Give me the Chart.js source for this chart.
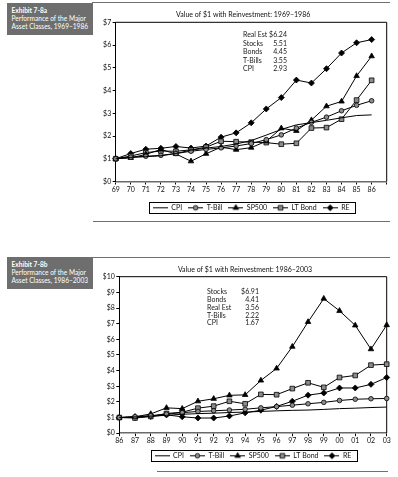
<!DOCTYPE html>
<html>
<head>
<meta charset="utf-8">
<script src="https://cdn.jsdelivr.net/npm/chart.js@4.4.1/dist/chart.umd.min.js"></script>
<style>
  body { margin: 0; width: 398px; height: 477px; overflow: hidden; background: #fff; position: relative;
         font-family: Lato, "Open Sans", sans-serif; color: #1a1a1a; }
  .rule { position: absolute; height: 0; border-top: 1px solid #707070; }
  .tag { position: absolute; left: 7px; width: 86px; height: 32px; box-sizing: border-box; padding: 2.9px 0 0 4.5px;
         background: #6e6e6e; color: #fff; font-size: 6.6px; line-height: 8.3px; white-space: nowrap; overflow: hidden; }
  .tag b { font-weight: bold; }
  canvas { position: absolute; left: 92px; }
  .summary { position: absolute; font-size: 7px; }
  .summary div { position: relative; white-space: nowrap; }
  .summary span { position: absolute; top: 0; }
  .summary .v { right: 0; }
</style>
</head>
<body>
<div class="rule" style="top:2px;left:92px;width:298px"></div>
<div class="tag" style="top:3px"><b>Exhibit 7-8a</b><br>Performance of the Major<br>Asset Classes, 1969–1986</div>
<canvas id="graficoA" width="306" height="218" style="top:4px;width:306px;height:218px"></canvas>
<div class="summary" id="resumenA" style="left:243px;top:30px;width:44px"></div>
<div class="rule" style="top:221px;left:93px;width:297px"></div>

<div class="rule" style="top:257px;left:92px;width:298px"></div>
<div class="tag" style="top:257px"><b>Exhibit 7-8b</b><br>Performance of the Major<br>Asset Classes, 1986–2003</div>
<canvas id="graficoB" width="306" height="212" style="top:258px;width:306px;height:212px"></canvas>
<div class="summary" id="resumenB" style="left:207px;top:288.4px;width:52px"></div>
<div class="rule" style="top:471px;left:157px;width:231px"></div>

<script>
// ---- data ----
const seriesNames = ['CPI', 'T-Bill', 'SP500', 'LT Bond', 'RE'];

const yearsA = ['69', '70', '71', '72', '73', '74', '75', '76', '77', '78', '79', '80', '81', '82', '83', '84', '85', '86', ''];
const cpiA   = [1.00, 1.06, 1.09, 1.13, 1.23, 1.38, 1.47, 1.54, 1.65, 1.80, 2.04, 2.29, 2.49, 2.59, 2.69, 2.80, 2.90, 2.93];
const tbillA = [1.00, 1.07, 1.11, 1.15, 1.23, 1.33, 1.41, 1.48, 1.56, 1.67, 1.84, 2.05, 2.35, 2.60, 2.83, 3.11, 3.35, 3.55];
const spA    = [1.00, 1.04, 1.19, 1.41, 1.21, 0.89, 1.22, 1.51, 1.40, 1.49, 1.77, 2.34, 2.23, 2.70, 3.31, 3.52, 4.64, 5.51];
const bondA  = [1.00, 1.12, 1.27, 1.34, 1.33, 1.39, 1.51, 1.77, 1.75, 1.73, 1.71, 1.64, 1.68, 2.35, 2.37, 2.74, 3.58, 4.45];
const reA    = [1.00, 1.23, 1.42, 1.46, 1.54, 1.47, 1.56, 1.95, 2.14, 2.58, 3.19, 3.69, 4.46, 4.33, 4.96, 5.65, 6.10, 6.24];
const namesA = ['Real Est', 'Stocks', 'Bonds', 'T-Bills', 'CPI'];
const finalA = ['$6.24', '5.51', '4.45', '3.55', '2.93'];

const yearsB = ['86', '87', '88', '89', '90', '91', '92', '93', '94', '95', '96', '97', '98', '99', '00', '01', '02', '03'];
const cpiB   = [1.00, 1.04, 1.09, 1.14, 1.21, 1.25, 1.28, 1.32, 1.35, 1.39, 1.43, 1.46, 1.48, 1.52, 1.57, 1.60, 1.64, 1.67];
const tbillB = [1.00, 1.06, 1.12, 1.22, 1.31, 1.39, 1.43, 1.48, 1.53, 1.62, 1.70, 1.79, 1.88, 1.97, 2.09, 2.17, 2.20, 2.22];
const spB    = [1.00, 1.05, 1.23, 1.62, 1.57, 2.04, 2.20, 2.42, 2.45, 3.37, 4.14, 5.53, 7.11, 8.60, 7.82, 6.89, 5.37, 6.91];
const bondB  = [1.00, 0.97, 1.07, 1.26, 1.34, 1.60, 1.73, 2.04, 1.88, 2.48, 2.46, 2.85, 3.22, 2.93, 3.56, 3.69, 4.35, 4.41];
const reB    = [1.00, 1.01, 1.07, 1.17, 1.05, 0.97, 0.97, 1.10, 1.30, 1.47, 1.71, 2.04, 2.43, 2.57, 2.89, 2.89, 3.12, 3.56];
const namesB = ['Stocks', 'Bonds', 'Real Est', 'T-Bills', 'CPI'];
const finalB = ['$6.91', '4.41', '3.56', '2.22', '1.67'];

// ---- look ----
Chart.defaults.font.family = 'Lato';
Chart.defaults.font.size = 7;
Chart.defaults.color = '#111';

const marcadores = [
    { style: false,      radius: 0,   fill: '#000' },
    { style: 'circle',   radius: 2.3, fill: '#8c8c8c' },
    { style: 'triangle', radius: 3.2, fill: '#000' },
    { style: 'rect',     radius: 3.3, fill: '#8c8c8c' },
    { style: 'rectRot',  radius: 3,   fill: '#000' }
];

// small canvas used as legend symbol: line with the marker in the middle
const iconoLeyenda = (m) => {
    const c = document.createElement('canvas');
    c.width = 15; c.height = 9;
    const g = c.getContext('2d');
    const cx = 7.5, cy = 4.5;
    g.strokeStyle = '#000';
    g.lineWidth = 1;
    g.beginPath(); g.moveTo(0, cy); g.lineTo(15, cy); g.stroke();
    g.fillStyle = m.fill;
    g.lineWidth = 0.8;
    g.beginPath();
    if (m.style === 'circle') {
        g.arc(cx, cy, m.radius, 0, Math.PI * 2);
    } else if (m.style === 'triangle') {
        const r = m.radius;
        g.moveTo(cx, cy - r); g.lineTo(cx + r * 0.866, cy + r / 2); g.lineTo(cx - r * 0.866, cy + r / 2); g.closePath();
    } else if (m.style === 'rect') {
        const s = m.radius * Math.SQRT1_2;
        g.rect(cx - s, cy - s, 2 * s, 2 * s);
    } else if (m.style === 'rectRot') {
        const r = m.radius;
        g.moveTo(cx, cy - r); g.lineTo(cx + r, cy); g.lineTo(cx, cy + r); g.lineTo(cx - r, cy); g.closePath();
    } else {
        return c;
    }
    g.fill(); g.stroke();
    return c;
};
const iconos = marcadores.map(iconoLeyenda);

const marcoPlugin = {
    id: 'marco',
    afterLayout(chart, args, opts) {
        // center the legend under the plot area and nudge it down a little
        const l = chart.legend;
        const dx = (chart.chartArea.left + chart.chartArea.right) / 2 - (l.left + l.right) / 2;
        const dy = opts.legendShift || 0;
        l.left += dx; l.right += dx;
        l.top += dy; l.bottom += dy;
    },
    beforeDatasetsDraw(chart) {
        const { ctx, chartArea: a } = chart;
        ctx.save();
        ctx.strokeStyle = '#000';
        ctx.lineWidth = 1;
        ctx.beginPath();
        ctx.moveTo(a.left, a.top); ctx.lineTo(a.right, a.top); ctx.lineTo(a.right, a.bottom);
        ctx.stroke();
        ctx.restore();
    },
    afterDraw(chart) {
        const { ctx } = chart;
        const hb = chart.legend.legendHitBoxes;
        if (!hb || !hb.length) return;
        const left = Math.min(...hb.map(h => h.left)) - 4;
        const right = Math.max(...hb.map(h => h.left + h.width)) + 5;
        const cy = hb[0].top + hb[0].height / 2;
        ctx.save();
        ctx.strokeStyle = '#000';
        ctx.lineWidth = 1;
        ctx.strokeRect(Math.round(left) + 0.5, Math.round(cy - 5.5) + 0.5, Math.round(right - left), 11);
        ctx.restore();
    }
};

const crearGrafica = (id, titulo, etiquetas, series, yMax, g) => {
    const datasets = series.map((valores, i) => ({
        label: seriesNames[i],
        data: valores,
        borderColor: '#000',
        borderWidth: 1,
        tension: 0,
        clip: false,
        pointStyle: marcadores[i].style || 'circle',
        pointRadius: marcadores[i].radius,
        pointHoverRadius: marcadores[i].radius,
        pointBackgroundColor: marcadores[i].fill,
        pointBorderColor: '#000',
        pointBorderWidth: 0.8
    }));

    return new Chart(document.getElementById(id), {
        type: 'line',
        data: { labels: etiquetas, datasets },
        options: {
            responsive: false,
            animation: false,
            events: [],
            layout: { padding: g.padding },
            scales: {
                x: {
                    type: 'category',
                    offset: false,
                    ticks: { autoSkip: false, maxRotation: 0, padding: g.xPad },
                    grid: { drawOnChartArea: false, tickLength: 3, color: '#000', offset: false },
                    border: { color: '#6a6a6a', width: 1.5 }
                },
                y: {
                    min: 0,
                    max: yMax,
                    ticks: { stepSize: 1, padding: 1.5, callback: v => '$' + v },
                    grid: { drawOnChartArea: false, tickLength: 3, color: '#000' },
                    border: { color: '#000', width: 1 },
                    afterFit: s => { s.width = 16; }
                }
            },
            plugins: {
                title: {
                    display: true,
                    text: titulo,
                    font: { size: 7, weight: 'normal', lineHeight: 1.2 },
                    padding: g.titlePad
                },
                legend: {
                    position: 'bottom',
                    labels: {
                        usePointStyle: true,
                        pointStyleWidth: 15,
                        boxHeight: 7,
                        padding: 6,
                        generateLabels: chart => Chart.defaults.plugins.legend.labels.generateLabels(chart)
                            .map((it, i) => ({ ...it, pointStyle: iconos[i], lineWidth: 0 }))
                    }
                },
                marco: { legendShift: g.legendShift },
                tooltip: { enabled: false }
            }
        },
        plugins: [marcoPlugin]
    });
};

const llenarResumen = (id, nombres, valores, alto) => {
    const caja = document.getElementById(id);
    nombres.forEach((n, i) => {
        const fila = document.createElement('div');
        fila.style.height = alto + 'px';
        fila.style.lineHeight = alto + 'px';
        fila.innerHTML = '<span>' + n + '</span><span class="v">' + valores[i] + '</span>';
        caja.appendChild(fila);
    });
};

crearGrafica('graficoA', 'Value of $1 with Reinvestment: 1969–1986', yearsA,
    [cpiA, tbillA, spA, bondA, reA], 7, {
        padding: { left: 7.7, right: 11.3, top: 0, bottom: 3.1 },
        titlePad: { top: 6.8, bottom: 3.1 },
        xPad: 1.5,
        legendShift: 2.4
    });

crearGrafica('graficoB', 'Value of $1 with Reinvestment: 1986–2003', yearsB,
    [cpiB, tbillB, spB, bondB, reB], 10, {
        padding: { left: 11.3, right: 11.3, top: 0, bottom: 1.4 },
        titlePad: { top: 7.8, bottom: 2.5 },
        xPad: 0.5,
        legendShift: 0.7
    });

llenarResumen('resumenA', namesA, finalA, 8.5);
llenarResumen('resumenB', namesB, finalB, 7.75);
</script>
</body>
</html>
